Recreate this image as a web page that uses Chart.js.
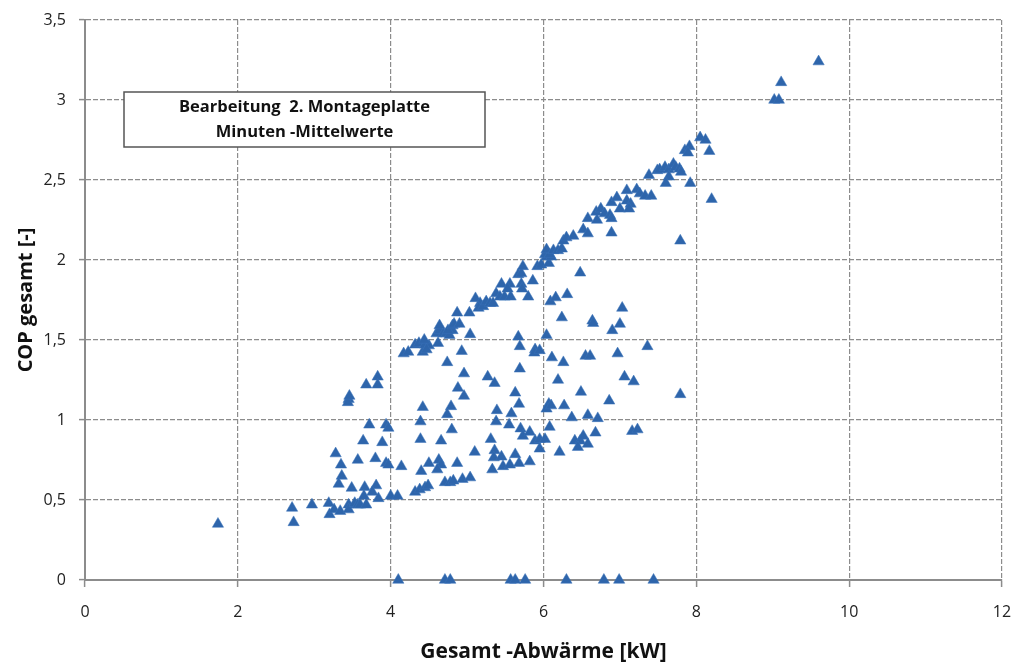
<!DOCTYPE html>
<html>
<head>
<meta charset="utf-8">
<script src="https://cdn.jsdelivr.net/npm/chart.js@4"></script>
<style>
  body { margin: 0; background: #fff; }
</style>
</head>
<body>
<canvas id="copChart" width="1012" height="663"></canvas>
<script>
// Gesamt-Abwärme [kW] (x) and COP gesamt [-] (y), minute averages
var heatKW = [
  1.74, 2.71, 2.73, 2.97, 3.19, 3.20, 3.26, 3.34, 3.28, 3.35, 3.36, 3.32,
  3.45, 3.44, 3.46, 3.45, 3.45, 3.49, 3.57, 3.53, 3.57, 3.64, 3.66, 3.68,
  3.72, 3.60, 3.68, 3.65, 3.81, 3.76, 3.80, 3.89, 3.83, 3.83, 3.84, 3.94,
  3.97, 3.94, 3.97, 4.00, 4.09, 4.14,
  4.17, 4.23, 4.32, 4.37, 4.42, 4.45, 4.50, 4.44, 4.47, 4.62, 4.60, 4.64,
  4.69, 4.73, 4.77, 4.81, 4.64, 4.75, 4.81, 4.83, 4.90, 4.87, 5.03, 5.04,
  4.93, 5.11, 5.17, 5.15, 5.21, 5.25, 5.30, 5.34, 5.38, 5.43, 5.49, 5.57,
  5.45, 5.56, 5.53, 5.67, 5.71, 5.73, 5.71, 5.72, 5.80, 5.86, 5.92, 5.97,
  6.07, 6.04, 6.10, 6.02, 6.08, 6.04, 6.13, 6.19, 6.24, 6.26, 6.30, 6.39,
  6.52, 6.58, 6.89, 6.58, 6.70, 6.69, 6.75, 6.80, 6.87, 6.89, 6.89, 6.96,
  7.00, 7.09, 7.14, 7.12, 7.09, 7.22, 7.26, 7.33, 7.41, 7.38, 7.49, 7.52,
  7.59, 7.64, 7.70, 7.73, 7.78, 7.80, 7.64, 7.60, 7.92, 7.85, 7.91, 7.89,
  8.05, 8.12, 8.17, 8.20, 7.79, 9.02, 9.08, 9.11, 9.60,
  4.74, 4.96, 4.88, 4.96, 4.79, 4.74, 4.42, 4.39, 4.80, 4.39, 4.66, 5.10,
  4.40, 4.50, 4.63, 4.66, 4.61, 4.87, 4.71, 4.78, 4.82, 4.94, 5.04, 4.32,
  4.38, 4.45, 4.49,
  5.27, 5.36, 5.69, 5.63, 5.68, 5.39, 5.38, 5.58, 5.55, 5.31, 5.70, 5.73,
  5.82, 5.89, 5.95, 6.02, 5.95, 5.36, 5.35, 5.45, 5.63, 5.33, 5.47, 5.56,
  5.68, 5.82, 5.67, 5.69, 5.89, 5.88, 5.95, 6.04, 6.11, 6.07, 6.04, 6.08,
  6.19, 6.48, 6.09, 6.16, 6.31, 6.24, 6.64, 6.65, 7.03, 7.00, 6.90, 7.36,
  6.26, 6.55, 6.61, 6.97, 7.06, 7.18, 6.49, 6.86, 7.79, 6.10, 6.27, 6.37,
  6.58, 6.71, 6.68, 7.16, 7.23, 6.41, 6.48, 6.52, 6.58, 6.45, 6.21
];
var copTotal = [
  0.35, 0.45, 0.36, 0.47, 0.48, 0.41, 0.44, 0.43, 0.79, 0.72, 0.65, 0.60,
  1.13, 1.11, 1.15, 0.47, 0.44, 0.575, 0.75, 0.48, 0.47, 0.87, 0.58, 1.22,
  0.97, 0.47, 0.47, 0.525, 0.59, 0.55, 0.76, 0.86, 1.27, 1.22, 0.51, 0.97,
  0.95, 0.73, 0.72, 0.525, 0.525, 0.71,
  1.415, 1.425, 1.47, 1.48, 1.425, 1.47, 1.465, 1.50, 1.44, 1.48, 1.54, 1.56,
  1.54, 1.54, 1.53, 1.56, 1.59, 1.56, 1.59, 1.60, 1.60, 1.67, 1.67, 1.535,
  1.43, 1.76, 1.73, 1.70, 1.71, 1.74, 1.73, 1.73, 1.79, 1.77, 1.77, 1.77,
  1.85, 1.85, 1.82, 1.91, 1.915, 1.96, 1.85, 1.82, 1.77, 1.87, 1.96, 1.97,
  1.98, 2.02, 2.02, 2.035, 2.035, 2.065, 2.06, 2.06, 2.07, 2.12, 2.14, 2.15,
  2.19, 2.165, 2.17, 2.26, 2.25, 2.30, 2.32, 2.29, 2.28, 2.26, 2.36, 2.39,
  2.32, 2.37, 2.35, 2.32, 2.435, 2.44, 2.415, 2.40, 2.40, 2.53, 2.56, 2.565,
  2.58, 2.565, 2.60, 2.58, 2.57, 2.55, 2.52, 2.48, 2.48, 2.685, 2.71, 2.67,
  2.765, 2.75, 2.68, 2.38, 2.12, 3.00, 3.00, 3.11, 3.24,
  1.36, 1.29, 1.20, 1.15, 1.085, 1.035, 1.08, 0.99, 0.94, 0.88, 0.87, 0.80,
  0.68, 0.73, 0.75, 0.72, 0.69, 0.73, 0.61, 0.61, 0.62, 0.63, 0.64, 0.55,
  0.565, 0.578, 0.59,
  1.27, 1.23, 1.32, 1.17, 1.10, 1.06, 0.99, 1.04, 0.97, 0.88, 0.946, 0.90,
  0.925, 0.87, 0.88, 0.88, 0.82, 0.81, 0.765, 0.77, 0.785, 0.69, 0.71, 0.72,
  0.73, 0.74, 1.52, 1.46, 1.44, 1.42, 1.435, 1.53, 1.39, 1.10, 1.07, 0.956,
  1.25, 1.92, 1.74, 1.765, 1.785, 1.64, 1.62, 1.605, 1.70, 1.60, 1.56, 1.46,
  1.36, 1.40, 1.40, 1.415, 1.27, 1.24, 1.175, 1.12, 1.16, 1.09, 1.09, 1.015,
  1.03, 1.01, 0.92, 0.93, 0.94, 0.87, 0.87, 0.90, 0.85, 0.83, 0.80
];
// readings where the COP dropped to zero
var zeroHeatKW = [4.10, 4.71, 4.78, 5.57, 5.63, 5.76, 6.30, 6.79, 6.99, 7.44];
var zeroCop = [0, 0, 0, 0, 0, 0, 0, 0, 0, 0];

var xTicks = [0, 2, 4, 6, 8, 10, 12];
var yTicks = [0, 0.5, 1, 1.5, 2, 2.5, 3, 3.5];
var noteLines = ['Bearbeitung  2. Montageplatte', 'Minuten -Mittelwerte'];

var points = [];
for (var i = 0; i < heatKW.length; i++) {
  points.push({ x: heatKW[i], y: copTotal[i] });
}
for (var j = 0; j < zeroHeatKW.length; j++) {
  points.push({ x: zeroHeatKW[j], y: zeroCop[j] });
}

var markerBlue = '#2e65ab';
var gridGrey = '#8c8c8c';
var fontFamily = '"Open Sans", "DejaVu Sans", sans-serif';

// white text box in the upper left of the plot
var noteBox = {
  id: 'noteBox',
  afterDatasetsDraw: function(chart) {
    var c = chart.ctx;
    var area = chart.chartArea;
    var left = area.left + 39, top = area.top + 72, w = 361, h = 55;
    c.save();
    c.fillStyle = '#ffffff';
    c.fillRect(left, top, w, h);
    c.strokeStyle = '#555555';
    c.lineWidth = 1.5;
    c.strokeRect(left, top, w, h);
    c.fillStyle = '#111111';
    c.font = 'bold 16.5px ' + fontFamily;
    c.textAlign = 'center';
    c.textBaseline = 'middle';
    c.fillText(noteLines[0], left + w / 2, top + 15);
    c.fillText(noteLines[1], left + w / 2, top + 40);
    c.restore();
  }
};

var ctx = document.getElementById('copChart').getContext('2d');

var myChart = new Chart(ctx, {
  type: 'scatter',
  data: {
    datasets: [{
      label: 'COP gesamt',
      data: points,
      clip: false,
      pointStyle: 'triangle',
      pointRadius: 6.5,
      pointHoverRadius: 6.5,
      backgroundColor: markerBlue,
      borderColor: '#3a72b8',
      borderWidth: 0.5
    }]
  },
  options: {
    responsive: false,
    animation: false,
    layout: { autoPadding: false, padding: { top: 20, right: 10, left: 0, bottom: 0 } },
    plugins: {
      legend: { display: false },
      tooltip: { enabled: false }
    },
    scales: {
      x: {
        type: 'linear',
        min: 0,
        max: 12,
        afterFit: function(scale) {
          scale.height = 83;
          scale.paddingLeft = 0;
          scale.paddingRight = 0;
        },
        afterBuildTicks: function(scale) {
          scale.ticks = xTicks.map(function(v) { return { value: v }; });
        },
        ticks: {
          color: '#222',
          font: { family: fontFamily, size: 16 },
          padding: 16,
          maxRotation: 0
        },
        grid: {
          color: gridGrey,
          lineWidth: 1.2,
          tickLength: 7,
          tickColor: gridGrey,
          tickWidth: 1.5
        },
        border: { display: true, color: gridGrey, width: 2, dash: [5, 2] },
        title: {
          display: true,
          text: 'Gesamt -Abwärme [kW]',
          color: '#111',
          font: { family: fontFamily, size: 21, weight: 'bold', lineHeight: 1 },
          padding: 0
        }
      },
      y: {
        type: 'linear',
        min: 0,
        max: 3.5,
        afterFit: function(scale) {
          scale.width = 85;
          scale.paddingTop = 0;
          scale.paddingBottom = 0;
        },
        afterBuildTicks: function(scale) {
          scale.ticks = yTicks.map(function(v) { return { value: v }; });
        },
        ticks: {
          color: '#222',
          font: { family: fontFamily, size: 16 },
          padding: 13,
          callback: function(v) { return String(v).replace('.', ','); }
        },
        grid: {
          color: gridGrey,
          lineWidth: 1.2,
          tickLength: 6,
          tickColor: gridGrey,
          tickWidth: 1.5
        },
        border: { display: true, color: gridGrey, width: 2, dash: [5, 2] },
        title: {
          display: true,
          text: 'COP gesamt [-]',
          color: '#111',
          font: { family: fontFamily, size: 20, weight: 'bold' },
          padding: { top: 14, bottom: 0 }
        }
      }
    }
  },
  plugins: [noteBox]
});
</script>
</body>
</html>
